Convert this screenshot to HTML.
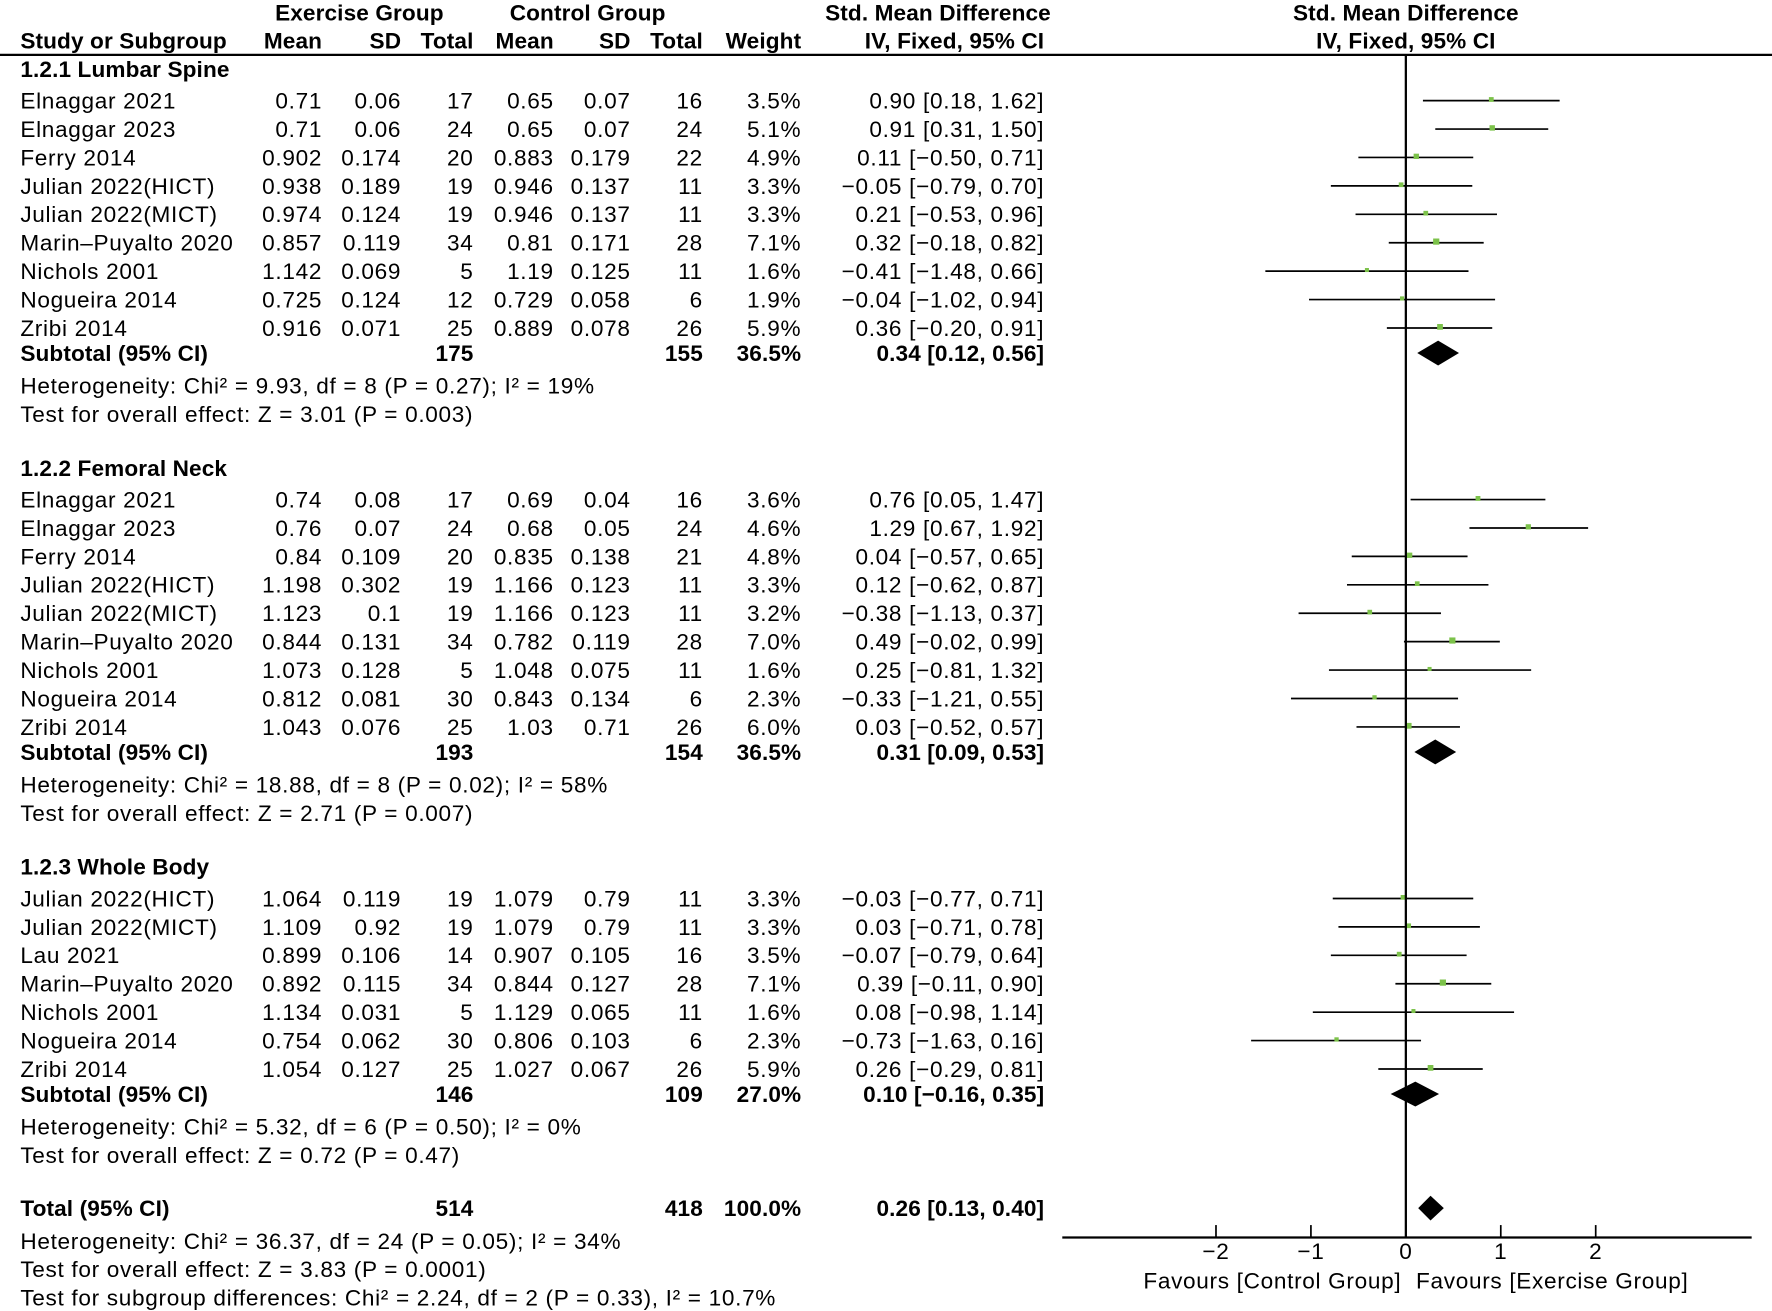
<!DOCTYPE html>
<html><head><meta charset="utf-8"><style>
html,body{margin:0;padding:0;background:#fff;}
svg{display:block;font-family:"Liberation Sans",sans-serif;}
text{font-size:20px;fill:#000;letter-spacing:0.6px;}
.b{font-weight:bold;letter-spacing:0.1px;}
</style></head><body>
<svg id="chart" width="1772" height="1311" viewBox="0 0 1568 1160" xmlns="http://www.w3.org/2000/svg">
<g id="tbl"></g>
<g id="plot"></g>
</svg>
<script>
// ---- data ----
const studyNames1 = ["Elnaggar 2021","Elnaggar 2023","Ferry 2014","Julian 2022(HICT)","Julian 2022(MICT)","Marin–Puyalto 2020","Nichols 2001","Nogueira 2014","Zribi 2014"];
const exMean1 = ["0.71","0.71","0.902","0.938","0.974","0.857","1.142","0.725","0.916"];
const exSD1 = ["0.06","0.06","0.174","0.189","0.124","0.119","0.069","0.124","0.071"];
const exN1 = [17,24,20,19,19,34,5,12,25];
const ctMean1 = ["0.65","0.65","0.883","0.946","0.946","0.81","1.19","0.729","0.889"];
const ctSD1 = ["0.07","0.07","0.179","0.137","0.137","0.171","0.125","0.058","0.078"];
const ctN1 = [16,24,22,11,11,28,11,6,26];
const weight1 = [3.5,5.1,4.9,3.3,3.3,7.1,1.6,1.9,5.9];
const smd1 = [0.90,0.91,0.11,-0.05,0.21,0.32,-0.41,-0.04,0.36];
const lo1 = [0.18,0.31,-0.50,-0.79,-0.53,-0.18,-1.48,-1.02,-0.20];
const hi1 = [1.62,1.50,0.71,0.70,0.96,0.82,0.66,0.94,0.91];

const studyNames2 = ["Elnaggar 2021","Elnaggar 2023","Ferry 2014","Julian 2022(HICT)","Julian 2022(MICT)","Marin–Puyalto 2020","Nichols 2001","Nogueira 2014","Zribi 2014"];
const exMean2 = ["0.74","0.76","0.84","1.198","1.123","0.844","1.073","0.812","1.043"];
const exSD2 = ["0.08","0.07","0.109","0.302","0.1","0.131","0.128","0.081","0.076"];
const exN2 = [17,24,20,19,19,34,5,30,25];
const ctMean2 = ["0.69","0.68","0.835","1.166","1.166","0.782","1.048","0.843","1.03"];
const ctSD2 = ["0.04","0.05","0.138","0.123","0.123","0.119","0.075","0.134","0.71"];
const ctN2 = [16,24,21,11,11,28,11,6,26];
const weight2 = [3.6,4.6,4.8,3.3,3.2,7.0,1.6,2.3,6.0];
const smd2 = [0.76,1.29,0.04,0.12,-0.38,0.49,0.25,-0.33,0.03];
const lo2 = [0.05,0.67,-0.57,-0.62,-1.13,-0.02,-0.81,-1.21,-0.52];
const hi2 = [1.47,1.92,0.65,0.87,0.37,0.99,1.32,0.55,0.57];

const studyNames3 = ["Julian 2022(HICT)","Julian 2022(MICT)","Lau 2021","Marin–Puyalto 2020","Nichols 2001","Nogueira 2014","Zribi 2014"];
const exMean3 = ["1.064","1.109","0.899","0.892","1.134","0.754","1.054"];
const exSD3 = ["0.119","0.92","0.106","0.115","0.031","0.062","0.127"];
const exN3 = [19,19,14,34,5,30,25];
const ctMean3 = ["1.079","1.079","0.907","0.844","1.129","0.806","1.027"];
const ctSD3 = ["0.79","0.79","0.105","0.127","0.065","0.103","0.067"];
const ctN3 = [11,11,16,28,11,6,26];
const weight3 = [3.3,3.3,3.5,7.1,1.6,2.3,5.9];
const smd3 = [-0.03,0.03,-0.07,0.39,0.08,-0.73,0.26];
const lo3 = [-0.77,-0.71,-0.79,-0.11,-0.98,-1.63,-0.29];
const hi3 = [0.71,0.78,0.64,0.90,1.14,0.16,0.81];

const subNames = ["1.2.1 Lumbar Spine","1.2.2 Femoral Neck","1.2.3 Whole Body"];
const subExN = [175,193,146];
const subCtN = [155,154,109];
const subWeight = ["36.5%","36.5%","27.0%"];
const subSmd = [0.34,0.31,0.10];
const subLo = [0.12,0.09,-0.16];
const subHi = [0.56,0.53,0.35];
const subHet = ["Heterogeneity: Chi² = 9.93, df = 8 (P = 0.27); I² = 19%","Heterogeneity: Chi² = 18.88, df = 8 (P = 0.02); I² = 58%","Heterogeneity: Chi² = 5.32, df = 6 (P = 0.50); I² = 0%"];
const subTest = ["Test for overall effect: Z = 3.01 (P = 0.003)","Test for overall effect: Z = 2.71 (P = 0.007)","Test for overall effect: Z = 0.72 (P = 0.47)"];
const totalVals = {exN:514, ctN:418, smd:0.26, lo:0.13, hi:0.40};
const axisTicks = [-2,-1,0,1,2];

// ---- layout ----
const NS="http://www.w3.org/2000/svg";
const tbl=document.getElementById('tbl'), plot=document.getElementById('plot');
const X0=1244, UNIT=84;
function xs(v){return X0+v*UNIT;}
function fmt(v){return (v<0?'−':'')+Math.abs(v).toFixed(2);}
function ci(s,l,h){return fmt(s)+' ['+fmt(l)+', '+fmt(h)+']';}
function txt(parent,x,y,s,anchor,bold,name){
  const t=document.createElementNS(NS,'text');
  t.setAttribute('x',x);t.setAttribute('y',y);
  if(anchor)t.setAttribute('text-anchor',anchor);
  if(bold)t.setAttribute('class','b');
  t.textContent=s;
  
  
  parent.appendChild(t);return t;
}
function line(parent,x1,y1,x2,y2,w,name){
  const l=document.createElementNS(NS,'line');
  l.setAttribute('x1',x1);l.setAttribute('y1',y1);l.setAttribute('x2',x2);l.setAttribute('y2',y2);
  l.setAttribute('stroke','#000');l.setAttribute('stroke-width',w||1.5);
  
  
  parent.appendChild(l);return l;
}
function diamond(y,s,l,h,name){
  const p=document.createElementNS(NS,'polygon');
  p.setAttribute('points',`${xs(l)},${y} ${xs(s)},${y-11} ${xs(h)},${y} ${xs(s)},${y+11}`);
  p.setAttribute('fill','#000');
  
  
  plot.appendChild(p);
}
const COL={name:18,exM:285,exS:355,exN:419,ctM:490,ctS:558,ctN:622,w:709,ci:924};
const BASE=7;

txt(tbl,318,11+BASE,'Exercise Group','middle',true,'exercise-group-header');
txt(tbl,520,11+BASE,'Control Group','middle',true,'control-group-header');
txt(tbl,830,11+BASE,'Std. Mean Difference','middle',true,'smd-header');
txt(tbl,1244,11+BASE,'Std. Mean Difference','middle',true,'plot-smd-header');
const hy=36+BASE;
txt(tbl,COL.name,hy,'Study or Subgroup','start',true,'study-header');
txt(tbl,COL.exM,hy,'Mean','end',true,'ex-mean-header');
txt(tbl,COL.exS,hy,'SD','end',true,'ex-sd-header');
txt(tbl,COL.exN,hy,'Total','end',true,'ex-total-header');
txt(tbl,COL.ctM,hy,'Mean','end',true,'ct-mean-header');
txt(tbl,COL.ctS,hy,'SD','end',true,'ct-sd-header');
txt(tbl,COL.ctN,hy,'Total','end',true,'ct-total-header');
txt(tbl,COL.w,hy,'Weight','end',true,'weight-header');
txt(tbl,COL.ci,hy,'IV, Fixed, 95% CI','end',true,'ci-header');
txt(tbl,1244,hy,'IV, Fixed, 95% CI','middle',true,'plot-ci-header');
line(tbl,0,48.5,1568,48.5,2,'header-rule');

const groups=[
 {names:studyNames1,em:exMean1,es:exSD1,en:exN1,cm:ctMean1,cs:ctSD1,cn:ctN1,w:weight1,s:smd1,l:lo1,h:hi1,top:61},
 {names:studyNames2,em:exMean2,es:exSD2,en:exN2,cm:ctMean2,cs:ctSD2,cn:ctN2,w:weight2,s:smd2,l:lo2,h:hi2,top:414},
 {names:studyNames3,em:exMean3,es:exSD3,en:exN3,cm:ctMean3,cs:ctSD3,cn:ctN3,w:weight3,s:smd3,l:lo3,h:hi3,top:767}
];
const PITCH=25.15;
groups.forEach((g,gi)=>{
  txt(tbl,COL.name,g.top+BASE,subNames[gi],'start',true,'subgroup-title');
  let y=g.top+28;
  g.names.forEach((n,i)=>{
    const by=y+BASE;
    txt(tbl,COL.name,by,n,'start',false,'study-name');
    txt(tbl,COL.exM,by,g.em[i],'end',false,'ex-mean');
    txt(tbl,COL.exS,by,g.es[i],'end',false,'ex-sd');
    txt(tbl,COL.exN,by,String(g.en[i]),'end',false,'ex-total');
    txt(tbl,COL.ctM,by,g.cm[i],'end',false,'ct-mean');
    txt(tbl,COL.ctS,by,g.cs[i],'end',false,'ct-sd');
    txt(tbl,COL.ctN,by,String(g.cn[i]),'end',false,'ct-total');
    txt(tbl,COL.w,by,g.w[i].toFixed(1)+'%','end',false,'weight');
    txt(tbl,COL.ci,by,ci(g.s[i],g.l[i],g.h[i]),'end',false,'study-ci');
    line(plot,xs(g.l[i]),y,xs(g.h[i]),y,1.5,'ci-line');
    const sz=3+g.w[i]*0.35;
    const r=document.createElementNS(NS,'rect');
    r.setAttribute('x',xs(g.s[i])-sz/2);r.setAttribute('y',y-sz/2-1);
    r.setAttribute('width',sz);r.setAttribute('height',sz);r.setAttribute('fill','#7cc24a');
    
    
    plot.appendChild(r);
    y+=PITCH;
  });
  const sy=y-3;
  txt(tbl,COL.name,sy+BASE,'Subtotal (95% CI)','start',true,'subtotal-label');
  txt(tbl,COL.exN,sy+BASE,String(subExN[gi]),'end',true,'subtotal-ex-total');
  txt(tbl,COL.ctN,sy+BASE,String(subCtN[gi]),'end',true,'subtotal-ct-total');
  txt(tbl,COL.w,sy+BASE,subWeight[gi],'end',true,'subtotal-weight');
  txt(tbl,COL.ci,sy+BASE,ci(subSmd[gi],subLo[gi],subHi[gi]),'end',true,'subtotal-ci');
  diamond(sy,subSmd[gi],subLo[gi],subHi[gi],'subtotal-diamond');
  txt(tbl,COL.name,sy+29+BASE,subHet[gi],'start',false,'heterogeneity');
  txt(tbl,COL.name,sy+54+BASE,subTest[gi],'start',false,'overall-effect');
});
const ty=1069;
txt(tbl,COL.name,ty+BASE,'Total (95% CI)','start',true,'total-label');
txt(tbl,COL.exN,ty+BASE,String(totalVals.exN),'end',true,'total-ex');
txt(tbl,COL.ctN,ty+BASE,String(totalVals.ctN),'end',true,'total-ct');
txt(tbl,COL.w,ty+BASE,'100.0%','end',true,'total-weight');
txt(tbl,COL.ci,ty+BASE,ci(totalVals.smd,totalVals.lo,totalVals.hi),'end',true,'total-ci');
diamond(ty,totalVals.smd,totalVals.lo,totalVals.hi,'total-diamond');
txt(tbl,COL.name,1098+BASE,'Heterogeneity: Chi² = 36.37, df = 24 (P = 0.05); I² = 34%','start',false,'total-heterogeneity');
txt(tbl,COL.name,1123+BASE,'Test for overall effect: Z = 3.83 (P = 0.0001)','start',false,'total-effect');
txt(tbl,COL.name,1148+BASE,'Test for subgroup differences: Chi² = 2.24, df = 2 (P = 0.33), I² = 10.7%','start',false,'subgroup-differences');

const AY=1095;
line(plot,X0,48,X0,AY,2,'zero-line');
line(plot,940,AY,1550,AY,2,'x-axis');
axisTicks.forEach(t=>{
  line(plot,xs(t),AY-11,xs(t),AY,1.5,'x-tick');
  txt(plot,xs(t),AY+19,(t<0?'−':'')+Math.abs(t),'middle',false,'x-tick-label');
});
txt(plot,1240,1140,'Favours [Control Group]','end',false,'favours-control');
txt(plot,1253,1140,'Favours [Exercise Group]','start',false,'favours-exercise');
</script>
</body></html>
